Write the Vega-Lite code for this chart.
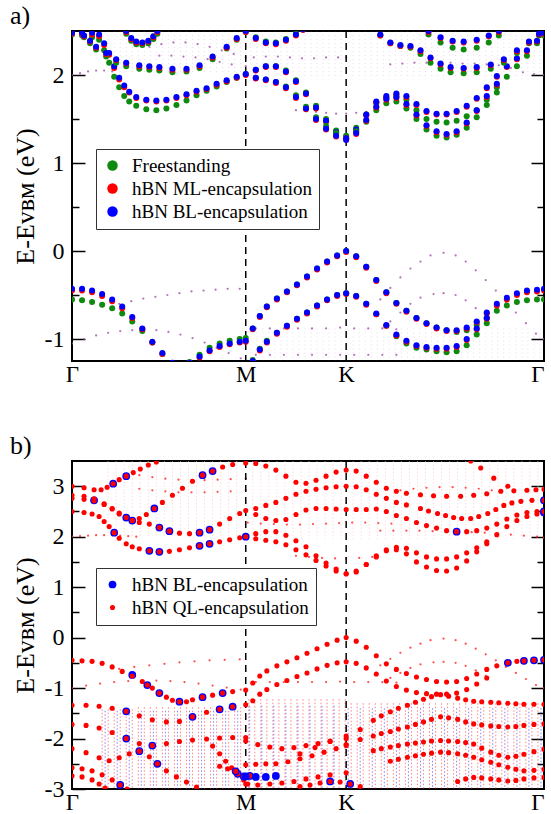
{
"$schema": "https://vega.github.io/schema/vega-lite/v6.json",
"padding": {"left": 9, "top": 2, "right": 2, "bottom": 0},
"spacing": 45,
"config": {
  "view": {"stroke": "black", "strokeWidth": 2},
  "font": "Liberation Serif, Times New Roman, DejaVu Serif, serif",
  "axis": {"grid": false, "domain": false, "labelFont": "Liberation Serif, Times New Roman, DejaVu Serif, serif", "titleFont": "Liberation Serif, Times New Roman, DejaVu Serif, serif", "labelFontSize": 24, "titleFontSize": 26, "titleFontWeight": "normal", "labelColor": "black", "titleColor": "black", "tickColor": "black", "tickWidth": 1.5},
  "title": {"font": "Liberation Serif, Times New Roman, DejaVu Serif, serif", "fontSize": 26, "fontWeight": "normal", "anchor": "start", "frame": "bounds", "offset": 1, "color": "black"}
},
"resolve": {"scale": {"color": "independent", "size": "independent", "stroke": "independent"}, "legend": {"color": "independent"}},
"datasets": {
"af": [
{"b":"cA","k":0,"FS":2.46,"ML":2.47,"BL":2.48},{"b":"cA","k":10,"FS":2.45,"ML":2.47,"BL":2.48},{"b":"cA","k":20,"FS":2.43,"ML":2.46,"BL":2.48},{"b":"cA","k":27,"FS":2.40,"ML":2.44,"BL":2.46},{"b":"cA","k":32,"FS":2.28,"ML":2.34,"BL":2.36},{"b":"cA","k":37,"FS":2.14,"ML":2.23,"BL":2.25},{"b":"cA","k":42,"FS":1.98,"ML":2.08,"BL":2.1},{"b":"cA","k":47,"FS":1.86,"ML":1.95,"BL":1.97},{"b":"cA","k":52,"FS":1.76,"ML":1.86,"BL":1.88},{"b":"cA","k":57,"FS":1.7,"ML":1.8,"BL":1.81},{"b":"cA","k":64,"FS":1.65,"ML":1.74,"BL":1.75},{"b":"cA","k":74,"FS":1.61,"ML":1.71,"BL":1.72},{"b":"cA","k":84,"FS":1.6,"ML":1.7,"BL":1.71},{"b":"cA","k":94,"FS":1.62,"ML":1.71,"BL":1.72},{"b":"cA","k":104,"FS":1.66,"ML":1.74,"BL":1.75},{"b":"cA","k":114,"FS":1.71,"ML":1.77,"BL":1.78},{"b":"cA","k":124,"FS":1.77,"ML":1.81,"BL":1.82},{"b":"cA","k":134,"FS":1.82,"ML":1.84,"BL":1.85},{"b":"cA","k":144,"FS":1.87,"ML":1.89,"BL":1.9},{"b":"cA","k":154,"FS":1.92,"ML":1.93,"BL":1.94},{"b":"cA","k":164,"FS":1.97,"ML":1.97,"BL":1.98},{"b":"cA","k":173,"FS":2.01,"ML":2.0,"BL":2.01},{"b":"cA","k":183,"FS":2.06,"ML":2.05,"BL":2.06},{"b":"cA","k":193,"FS":2.1,"ML":2.09,"BL":2.1},{"b":"cA","k":203,"FS":2.1,"ML":2.09,"BL":2.1},{"b":"cA","k":213,"FS":2.05,"ML":2.03,"BL":2.04},{"b":"cA","k":223,"FS":1.94,"ML":1.92,"BL":1.93},{"b":"cA","k":233,"FS":1.8,"ML":1.78,"BL":1.79},{"b":"cA","k":243,"FS":1.65,"ML":1.62,"BL":1.63},{"b":"cA","k":253,"FS":1.5,"ML":1.47,"BL":1.48},{"b":"cA","k":263,"FS":1.37,"ML":1.34,"BL":1.35},{"b":"cA","k":273,"FS":1.3,"ML":1.27,"BL":1.26},{"b":"cA","k":283,"FS":1.4,"ML":1.37,"BL":1.38},{"b":"cA","k":293,"FS":1.55,"ML":1.54,"BL":1.55},{"b":"cA","k":303,"FS":1.68,"ML":1.69,"BL":1.7},{"b":"cA","k":313,"FS":1.74,"ML":1.75,"BL":1.76},{"b":"cA","k":323,"FS":1.76,"ML":1.78,"BL":1.79},{"b":"cA","k":333,"FS":1.72,"ML":1.75,"BL":1.76},{"b":"cA","k":343,"FS":1.6,"ML":1.66,"BL":1.67},{"b":"cA","k":353,"FS":1.5,"ML":1.58,"BL":1.59},{"b":"cA","k":363,"FS":1.47,"ML":1.55,"BL":1.56},{"b":"cA","k":373,"FS":1.46,"ML":1.55,"BL":1.56},{"b":"cA","k":383,"FS":1.48,"ML":1.58,"BL":1.59},{"b":"cA","k":393,"FS":1.53,"ML":1.64,"BL":1.65},{"b":"cA","k":403,"FS":1.6,"ML":1.73,"BL":1.74},{"b":"cA","k":413,"FS":1.72,"ML":1.85,"BL":1.86},{"b":"cA","k":423,"FS":1.86,"ML":1.98,"BL":1.99},{"b":"cA","k":433,"FS":1.98,"ML":2.09,"BL":2.1},{"b":"cA","k":443,"FS":2.1,"ML":2.18,"BL":2.19},{"b":"cA","k":453,"FS":2.22,"ML":2.27,"BL":2.28},{"b":"cA","k":463,"FS":2.36,"ML":2.38,"BL":2.39},{"b":"cA","k":470,"FS":2.45,"ML":2.47,"BL":2.48},
{"b":"cB","k":183,"FS":1.97,"ML":1.96,"BL":1.97},{"b":"cB","k":193,"FS":1.95,"ML":1.94,"BL":1.95},{"b":"cB","k":203,"FS":1.92,"ML":1.91,"BL":1.92},{"b":"cB","k":213,"FS":1.87,"ML":1.85,"BL":1.86},{"b":"cB","k":223,"FS":1.77,"ML":1.74,"BL":1.75},{"b":"cB","k":233,"FS":1.64,"ML":1.61,"BL":1.62},{"b":"cB","k":243,"FS":1.52,"ML":1.49,"BL":1.5},{"b":"cB","k":253,"FS":1.42,"ML":1.38,"BL":1.39},{"b":"cB","k":263,"FS":1.34,"ML":1.3,"BL":1.31},{"b":"cB","k":273,"FS":1.31,"ML":1.28,"BL":1.28},{"b":"cB","k":283,"FS":1.36,"ML":1.33,"BL":1.34},{"b":"cB","k":293,"FS":1.47,"ML":1.48,"BL":1.49},{"b":"cB","k":303,"FS":1.6,"ML":1.63,"BL":1.64},{"b":"cB","k":313,"FS":1.68,"ML":1.72,"BL":1.73},{"b":"cB","k":323,"FS":1.7,"ML":1.74,"BL":1.75},{"b":"cB","k":333,"FS":1.62,"ML":1.66,"BL":1.67},{"b":"cB","k":343,"FS":1.5,"ML":1.54,"BL":1.55},{"b":"cB","k":353,"FS":1.38,"ML":1.42,"BL":1.43},{"b":"cB","k":363,"FS":1.31,"ML":1.35,"BL":1.36},{"b":"cB","k":373,"FS":1.29,"ML":1.32,"BL":1.33},{"b":"cB","k":383,"FS":1.32,"ML":1.35,"BL":1.36},{"b":"cB","k":393,"FS":1.4,"ML":1.45,"BL":1.46},{"b":"cB","k":403,"FS":1.52,"ML":1.59,"BL":1.6},{"b":"cB","k":413,"FS":1.66,"ML":1.75,"BL":1.76},{"b":"cB","k":423,"FS":1.8,"ML":1.89,"BL":1.9},
{"b":"cC","k":12,"FS":2.43,"ML":2.44,"BL":2.45},{"b":"cC","k":18,"FS":2.36,"ML":2.38,"BL":2.39},{"b":"cC","k":24,"FS":2.29,"ML":2.31,"BL":2.32},{"b":"cC","k":34,"FS":2.21,"ML":2.24,"BL":2.25},{"b":"cC","k":44,"FS":2.14,"ML":2.17,"BL":2.18},{"b":"cC","k":54,"FS":2.1,"ML":2.13,"BL":2.14},{"b":"cC","k":67,"FS":2.07,"ML":2.1,"BL":2.11},{"b":"cC","k":77,"FS":2.06,"ML":2.09,"BL":2.1},{"b":"cC","k":87,"FS":2.05,"ML":2.08,"BL":2.09},{"b":"cC","k":100,"FS":2.03,"ML":2.06,"BL":2.07},{"b":"cC","k":114,"FS":2.04,"ML":2.06,"BL":2.07},{"b":"cC","k":127,"FS":2.08,"ML":2.1,"BL":2.11},{"b":"cC","k":140,"FS":2.18,"ML":2.2,"BL":2.21},{"b":"cC","k":154,"FS":2.3,"ML":2.31,"BL":2.32},{"b":"cC","k":164,"FS":2.4,"ML":2.41,"BL":2.42},{"b":"cC","k":173,"FS":2.49,"ML":2.49,"BL":2.5},{"b":"cC","k":183,"FS":2.43,"ML":2.41,"BL":2.42},{"b":"cC","k":193,"FS":2.38,"ML":2.36,"BL":2.37},{"b":"cC","k":203,"FS":2.37,"ML":2.35,"BL":2.36},{"b":"cC","k":213,"FS":2.41,"ML":2.39,"BL":2.4},{"b":"cC","k":223,"FS":2.47,"ML":2.45,"BL":2.46},{"b":"cC","k":230,"FS":2.53,"ML":2.51,"BL":2.52},
{"b":"cD","k":54,"FS":2.47,"ML":2.49,"BL":2.5},{"b":"cD","k":59,"FS":2.39,"ML":2.41,"BL":2.42},{"b":"cD","k":64,"FS":2.35,"ML":2.37,"BL":2.38},{"b":"cD","k":70,"FS":2.34,"ML":2.36,"BL":2.37},{"b":"cD","k":76,"FS":2.36,"ML":2.38,"BL":2.39},{"b":"cD","k":81,"FS":2.41,"ML":2.43,"BL":2.44},{"b":"cD","k":85,"FS":2.47,"ML":2.49,"BL":2.5},
{"b":"U1","k":307,"FS":2.45,"ML":2.45,"BL":2.46},{"b":"U1","k":317,"FS":2.36,"ML":2.36,"BL":2.37},{"b":"U1","k":327,"FS":2.33,"ML":2.33,"BL":2.34},{"b":"U1","k":337,"FS":2.31,"ML":2.32,"BL":2.33},{"b":"U1","k":347,"FS":2.24,"ML":2.27,"BL":2.28},{"b":"U1","k":357,"FS":2.14,"ML":2.19,"BL":2.2},{"b":"U1","k":367,"FS":2.07,"ML":2.12,"BL":2.13},{"b":"U1","k":377,"FS":2.03,"ML":2.08,"BL":2.09},{"b":"U1","k":390,"FS":2.02,"ML":2.07,"BL":2.08},{"b":"U1","k":403,"FS":2.03,"ML":2.08,"BL":2.09},{"b":"U1","k":417,"FS":2.07,"ML":2.11,"BL":2.12},{"b":"U1","k":430,"FS":2.14,"ML":2.17,"BL":2.18},{"b":"U1","k":443,"FS":2.25,"ML":2.27,"BL":2.28},{"b":"U1","k":455,"FS":2.36,"ML":2.37,"BL":2.38},{"b":"U1","k":465,"FS":2.45,"ML":2.46,"BL":2.47},
{"b":"U2","k":355,"FS":2.46,"ML":2.49,"BL":2.5},{"b":"U2","k":367,"FS":2.37,"ML":2.42,"BL":2.43},{"b":"U2","k":379,"FS":2.31,"ML":2.38,"BL":2.39},{"b":"U2","k":390,"FS":2.29,"ML":2.37,"BL":2.38},{"b":"U2","k":403,"FS":2.31,"ML":2.39,"BL":2.4},{"b":"U2","k":415,"FS":2.37,"ML":2.44,"BL":2.45},{"b":"U2","k":425,"FS":2.45,"ML":2.49,"BL":2.5},
{"b":"V1","k":0,"FS":-0.55,"ML":-0.45,"BL":-0.43},{"b":"V1","k":10,"FS":-0.56,"ML":-0.45,"BL":-0.43},{"b":"V1","k":20,"FS":-0.58,"ML":-0.47,"BL":-0.45},{"b":"V1","k":30,"FS":-0.61,"ML":-0.51,"BL":-0.49},{"b":"V1","k":40,"FS":-0.65,"ML":-0.57,"BL":-0.55},{"b":"V1","k":50,"FS":-0.71,"ML":-0.65,"BL":-0.63},{"b":"V1","k":60,"FS":-0.8,"ML":-0.76,"BL":-0.75},{"b":"V1","k":70,"FS":-0.91,"ML":-0.89,"BL":-0.88},{"b":"V1","k":80,"FS":-1.04,"ML":-1.04,"BL":-1.03},{"b":"V1","k":90,"FS":-1.17,"ML":-1.17,"BL":-1.16},{"b":"V1","k":100,"FS":-1.28,"ML":-1.28,"BL":-1.27},
{"b":"Vm","k":117,"FS":-1.26,"ML":-1.28,"BL":-1.27},{"b":"Vm","k":127,"FS":-1.18,"ML":-1.21,"BL":-1.2},{"b":"Vm","k":137,"FS":-1.1,"ML":-1.14,"BL":-1.13},{"b":"Vm","k":147,"FS":-1.05,"ML":-1.09,"BL":-1.08},{"b":"Vm","k":157,"FS":-1.02,"ML":-1.06,"BL":-1.05},{"b":"Vm","k":167,"FS":-1.0,"ML":-1.04,"BL":-1.03},{"b":"Vm","k":173,"FS":-0.99,"ML":-1.03,"BL":-1.02},
{"b":"V1b","k":180,"FS":-0.88,"ML":-0.89,"BL":-0.88},{"b":"V1b","k":187,"FS":-0.74,"ML":-0.75,"BL":-0.74},{"b":"V1b","k":194,"FS":-0.63,"ML":-0.64,"BL":-0.63},{"b":"V1b","k":204,"FS":-0.54,"ML":-0.55,"BL":-0.54},{"b":"V1b","k":214,"FS":-0.46,"ML":-0.47,"BL":-0.46},{"b":"V1b","k":224,"FS":-0.38,"ML":-0.39,"BL":-0.38},{"b":"V1b","k":234,"FS":-0.29,"ML":-0.3,"BL":-0.29},{"b":"V1b","k":244,"FS":-0.2,"ML":-0.21,"BL":-0.2},{"b":"V1b","k":254,"FS":-0.12,"ML":-0.13,"BL":-0.12},{"b":"V1b","k":264,"FS":-0.05,"ML":-0.06,"BL":-0.05},{"b":"V1b","k":273,"FS":0,"ML":-0.01,"BL":0},{"b":"V1b","k":283,"FS":-0.06,"ML":-0.07,"BL":-0.06},{"b":"V1b","k":293,"FS":-0.18,"ML":-0.19,"BL":-0.18},{"b":"V1b","k":303,"FS":-0.33,"ML":-0.34,"BL":-0.33},{"b":"V1b","k":313,"FS":-0.47,"ML":-0.48,"BL":-0.47},{"b":"V1b","k":323,"FS":-0.59,"ML":-0.6,"BL":-0.59},{"b":"V1b","k":333,"FS":-0.68,"ML":-0.69,"BL":-0.68},{"b":"V1b","k":343,"FS":-0.76,"ML":-0.77,"BL":-0.76},{"b":"V1b","k":353,"FS":-0.82,"ML":-0.83,"BL":-0.82},{"b":"V1b","k":363,"FS":-0.87,"ML":-0.88,"BL":-0.87},{"b":"V1b","k":373,"FS":-0.9,"ML":-0.91,"BL":-0.9},{"b":"V1b","k":383,"FS":-0.92,"ML":-0.91,"BL":-0.9},{"b":"V1b","k":393,"FS":-0.9,"ML":-0.88,"BL":-0.87},{"b":"V1b","k":403,"FS":-0.84,"ML":-0.81,"BL":-0.8},{"b":"V1b","k":413,"FS":-0.76,"ML":-0.71,"BL":-0.7},{"b":"V1b","k":423,"FS":-0.68,"ML":-0.62,"BL":-0.6},{"b":"V1b","k":433,"FS":-0.62,"ML":-0.55,"BL":-0.53},{"b":"V1b","k":443,"FS":-0.58,"ML":-0.5,"BL":-0.48},{"b":"V1b","k":453,"FS":-0.56,"ML":-0.47,"BL":-0.45},{"b":"V1b","k":463,"FS":-0.55,"ML":-0.46,"BL":-0.44},{"b":"V1b","k":470,"FS":-0.55,"ML":-0.45,"BL":-0.43},
{"b":"V2","k":180,"FS":-1.24,"ML":-1.26,"BL":-1.25},{"b":"V2","k":187,"FS":-1.11,"ML":-1.13,"BL":-1.12},{"b":"V2","k":194,"FS":-1.02,"ML":-1.04,"BL":-1.03},{"b":"V2","k":204,"FS":-0.93,"ML":-0.94,"BL":-0.93},{"b":"V2","k":214,"FS":-0.85,"ML":-0.86,"BL":-0.85},{"b":"V2","k":224,"FS":-0.77,"ML":-0.78,"BL":-0.77},{"b":"V2","k":234,"FS":-0.7,"ML":-0.71,"BL":-0.7},{"b":"V2","k":244,"FS":-0.62,"ML":-0.63,"BL":-0.62},{"b":"V2","k":254,"FS":-0.55,"ML":-0.56,"BL":-0.55},{"b":"V2","k":264,"FS":-0.5,"ML":-0.51,"BL":-0.5},{"b":"V2","k":273,"FS":-0.48,"ML":-0.49,"BL":-0.48},{"b":"V2","k":283,"FS":-0.51,"ML":-0.52,"BL":-0.51},{"b":"V2","k":293,"FS":-0.6,"ML":-0.61,"BL":-0.6},{"b":"V2","k":303,"FS":-0.72,"ML":-0.72,"BL":-0.71},{"b":"V2","k":313,"FS":-0.85,"ML":-0.85,"BL":-0.84},{"b":"V2","k":323,"FS":-0.97,"ML":-0.96,"BL":-0.95},{"b":"V2","k":333,"FS":-1.05,"ML":-1.03,"BL":-1.02},{"b":"V2","k":343,"FS":-1.1,"ML":-1.08,"BL":-1.07},{"b":"V2","k":353,"FS":-1.12,"ML":-1.1,"BL":-1.09},{"b":"V2","k":363,"FS":-1.14,"ML":-1.11,"BL":-1.1},{"b":"V2","k":373,"FS":-1.15,"ML":-1.11,"BL":-1.1},{"b":"V2","k":383,"FS":-1.14,"ML":-1.09,"BL":-1.08},{"b":"V2","k":393,"FS":-1.07,"ML":-1.01,"BL":-1.0},{"b":"V2","k":403,"FS":-0.95,"ML":-0.89,"BL":-0.88},{"b":"V2","k":413,"FS":-0.82,"ML":-0.77,"BL":-0.76}
],
"aw": [
{"b":"f1","k":0,"E":2.0},{"b":"f1","k":8,"E":2.02},{"b":"f1","k":16,"E":2.04},{"b":"f1","k":24,"E":2.05},{"b":"f1","k":32,"E":2.05},{"b":"f1","k":40,"E":2.04},
{"b":"f2","k":77,"E":2.32},{"b":"f2","k":89,"E":2.35},{"b":"f2","k":101,"E":2.37},{"b":"f2","k":113,"E":2.37},{"b":"f2","k":125,"E":2.35},{"b":"f2","k":137,"E":2.32},{"b":"f2","k":149,"E":2.28},{"b":"f2","k":161,"E":2.24},{"b":"f2","k":173,"E":2.2},
{"b":"f3","k":87,"E":2.22},{"b":"f3","k":99,"E":2.22},{"b":"f3","k":111,"E":2.21},{"b":"f3","k":123,"E":2.2},{"b":"f3","k":135,"E":2.18},{"b":"f3","k":147,"E":2.15},{"b":"f3","k":159,"E":2.12},{"b":"f3","k":173,"E":2.1},
{"b":"f6","k":181,"E":2.2},{"b":"f6","k":193,"E":2.21},{"b":"f6","k":205,"E":2.21},{"b":"f6","k":217,"E":2.2},{"b":"f6","k":229,"E":2.19},{"b":"f6","k":241,"E":2.19},{"b":"f6","k":253,"E":2.2},{"b":"f6","k":265,"E":2.2},{"b":"f6","k":273,"E":2.2},
{"b":"f4","k":223,"E":1.6},{"b":"f4","k":233,"E":1.59},{"b":"f4","k":243,"E":1.58},{"b":"f4","k":253,"E":1.57},{"b":"f4","k":263,"E":1.56},{"b":"f4","k":273,"E":1.56},{"b":"f4","k":283,"E":1.57},{"b":"f4","k":293,"E":1.58},
{"b":"f5","k":317,"E":2.12},{"b":"f5","k":329,"E":2.13},{"b":"f5","k":341,"E":2.14},{"b":"f5","k":353,"E":2.14},{"b":"f5","k":365,"E":2.14},{"b":"f5","k":377,"E":2.14},{"b":"f5","k":389,"E":2.13},{"b":"f5","k":401,"E":2.13},{"b":"f5","k":413,"E":2.12},{"b":"f5","k":425,"E":2.11},{"b":"f5","k":437,"E":2.08},{"b":"f5","k":449,"E":2.03},{"b":"f5","k":460,"E":2.01},{"b":"f5","k":470,"E":2.0},
{"b":"v1","k":47,"E":-0.6},{"b":"v1","k":59,"E":-0.57},{"b":"v1","k":71,"E":-0.54},{"b":"v1","k":83,"E":-0.52},{"b":"v1","k":95,"E":-0.5},{"b":"v1","k":107,"E":-0.48},{"b":"v1","k":119,"E":-0.46},{"b":"v1","k":131,"E":-0.45},{"b":"v1","k":143,"E":-0.44},{"b":"v1","k":155,"E":-0.43},{"b":"v1","k":167,"E":-0.43},
{"b":"v2","k":0,"E":-1.05},{"b":"v2","k":12,"E":-1.0},{"b":"v2","k":24,"E":-0.96},{"b":"v2","k":36,"E":-0.93},{"b":"v2","k":48,"E":-0.91},{"b":"v2","k":60,"E":-0.9},{"b":"v2","k":72,"E":-0.9},{"b":"v2","k":84,"E":-0.9},{"b":"v2","k":96,"E":-0.92},{"b":"v2","k":108,"E":-0.95},{"b":"v2","k":120,"E":-0.99},{"b":"v2","k":132,"E":-1.04},{"b":"v2","k":144,"E":-1.1},{"b":"v2","k":156,"E":-1.16},{"b":"v2","k":168,"E":-1.22},
{"b":"v5","k":183,"E":-0.88},{"b":"v5","k":197,"E":-0.88},{"b":"v5","k":211,"E":-0.88},{"b":"v5","k":225,"E":-0.88},{"b":"v5","k":239,"E":-0.88},{"b":"v5","k":253,"E":-0.88},{"b":"v5","k":267,"E":-0.87},{"b":"v5","k":281,"E":-0.88},{"b":"v5","k":295,"E":-0.88},{"b":"v5","k":309,"E":-0.88},{"b":"v5","k":323,"E":-0.89},
{"b":"v6","k":183,"E":-1.18},{"b":"v6","k":197,"E":-1.18},{"b":"v6","k":211,"E":-1.18},{"b":"v6","k":225,"E":-1.18},{"b":"v6","k":239,"E":-1.18},{"b":"v6","k":253,"E":-1.18},{"b":"v6","k":267,"E":-1.18},{"b":"v6","k":281,"E":-1.18},{"b":"v6","k":295,"E":-1.18},{"b":"v6","k":309,"E":-1.18},{"b":"v6","k":323,"E":-1.18},
{"b":"d1","k":307,"E":-0.55},{"b":"d1","k":317,"E":-0.42},{"b":"d1","k":327,"E":-0.3},{"b":"d1","k":337,"E":-0.2},{"b":"d1","k":347,"E":-0.12},{"b":"d1","k":357,"E":-0.05},{"b":"d1","k":370,"E":-0.02},{"b":"d1","k":382,"E":-0.05},{"b":"d1","k":392,"E":-0.12},{"b":"d1","k":402,"E":-0.22},{"b":"d1","k":412,"E":-0.33},{"b":"d1","k":422,"E":-0.45},{"b":"d1","k":432,"E":-0.58},{"b":"d1","k":442,"E":-0.7},{"b":"d1","k":452,"E":-0.82},{"b":"d1","k":462,"E":-0.94},{"b":"d1","k":470,"E":-1.0},
{"b":"d2","k":317,"E":-0.8},{"b":"d2","k":327,"E":-0.7},{"b":"d2","k":337,"E":-0.6},{"b":"d2","k":347,"E":-0.53},{"b":"d2","k":360,"E":-0.49},{"b":"d2","k":370,"E":-0.48},{"b":"d2","k":382,"E":-0.5},{"b":"d2","k":392,"E":-0.56},{"b":"d2","k":402,"E":-0.65},{"b":"d2","k":412,"E":-0.76}
],
"ac": [
{"k":36,"lo":2.0,"hi":2.5},{"k":42,"lo":2.0,"hi":2.5},{"k":48,"lo":2.0,"hi":2.5},{"k":54,"lo":2.0,"hi":2.5},{"k":60,"lo":2.0,"hi":2.5},{"k":66,"lo":2.0,"hi":2.5},{"k":72,"lo":2.0,"hi":2.5},{"k":78,"lo":2.0,"hi":2.5},{"k":84,"lo":2.0,"hi":2.5},{"k":90,"lo":2.0,"hi":2.5},{"k":96,"lo":2.0,"hi":2.5},{"k":102,"lo":2.0,"hi":2.5},{"k":108,"lo":2.0,"hi":2.5},{"k":114,"lo":2.0,"hi":2.5},{"k":120,"lo":2.0,"hi":2.5},{"k":126,"lo":2.0,"hi":2.5},{"k":132,"lo":2.0,"hi":2.5},{"k":138,"lo":2.0,"hi":2.5},{"k":144,"lo":2.0,"hi":2.5},{"k":150,"lo":2.0,"hi":2.5},{"k":156,"lo":2.0,"hi":2.5},{"k":162,"lo":2.0,"hi":2.5},{"k":168,"lo":2.0,"hi":2.5},
{"k":178,"lo":1.95,"hi":2.5},{"k":184,"lo":1.95,"hi":2.5},{"k":190,"lo":1.95,"hi":2.5},{"k":196,"lo":1.95,"hi":2.5},{"k":202,"lo":1.95,"hi":2.5},{"k":208,"lo":1.95,"hi":2.5},{"k":214,"lo":1.95,"hi":2.5},{"k":220,"lo":1.95,"hi":2.5},{"k":226,"lo":1.95,"hi":2.5},{"k":232,"lo":1.95,"hi":2.5},{"k":238,"lo":1.95,"hi":2.5},{"k":244,"lo":1.95,"hi":2.5},{"k":250,"lo":1.95,"hi":2.5},{"k":256,"lo":1.95,"hi":2.5},{"k":262,"lo":1.95,"hi":2.5},{"k":268,"lo":1.95,"hi":2.5},
{"k":280,"lo":1.95,"hi":2.5},{"k":286,"lo":1.95,"hi":2.5},{"k":292,"lo":1.95,"hi":2.5},{"k":298,"lo":1.95,"hi":2.5},{"k":304,"lo":1.95,"hi":2.5},{"k":310,"lo":1.95,"hi":2.5},{"k":316,"lo":1.95,"hi":2.5},{"k":322,"lo":1.95,"hi":2.5},{"k":328,"lo":1.95,"hi":2.5},{"k":334,"lo":1.95,"hi":2.5},{"k":340,"lo":1.95,"hi":2.5},{"k":346,"lo":1.95,"hi":2.5},{"k":352,"lo":1.95,"hi":2.5},{"k":358,"lo":1.95,"hi":2.5},{"k":364,"lo":1.95,"hi":2.5},{"k":370,"lo":1.95,"hi":2.5},{"k":376,"lo":1.95,"hi":2.5},{"k":382,"lo":1.95,"hi":2.5},{"k":388,"lo":1.95,"hi":2.5},{"k":394,"lo":1.95,"hi":2.5},{"k":400,"lo":1.95,"hi":2.5},{"k":406,"lo":1.95,"hi":2.5},{"k":412,"lo":1.95,"hi":2.5},{"k":418,"lo":1.95,"hi":2.5},{"k":424,"lo":1.95,"hi":2.5},{"k":430,"lo":1.95,"hi":2.5},{"k":436,"lo":1.95,"hi":2.5},{"k":442,"lo":1.95,"hi":2.5},{"k":448,"lo":1.95,"hi":2.5},{"k":454,"lo":1.95,"hi":2.5},{"k":460,"lo":1.95,"hi":2.5},{"k":466,"lo":1.95,"hi":2.5},
{"k":178,"lo":-1.25,"hi":-0.88},{"k":184,"lo":-1.25,"hi":-0.88},{"k":190,"lo":-1.25,"hi":-0.88},{"k":196,"lo":-1.25,"hi":-0.88},{"k":202,"lo":-1.25,"hi":-0.88},{"k":208,"lo":-1.25,"hi":-0.88},{"k":214,"lo":-1.25,"hi":-0.88},{"k":220,"lo":-1.25,"hi":-0.88},{"k":226,"lo":-1.25,"hi":-0.88},{"k":232,"lo":-1.25,"hi":-0.88},{"k":238,"lo":-1.25,"hi":-0.88},{"k":244,"lo":-1.25,"hi":-0.88},{"k":250,"lo":-1.25,"hi":-0.88},{"k":256,"lo":-1.25,"hi":-0.88},{"k":262,"lo":-1.25,"hi":-0.88},{"k":268,"lo":-1.25,"hi":-0.88},{"k":274,"lo":-1.25,"hi":-0.88},{"k":280,"lo":-1.25,"hi":-0.88},{"k":286,"lo":-1.25,"hi":-0.88},{"k":292,"lo":-1.25,"hi":-0.88},{"k":298,"lo":-1.25,"hi":-0.88},{"k":304,"lo":-1.25,"hi":-0.88},{"k":310,"lo":-1.25,"hi":-0.88},{"k":316,"lo":-1.25,"hi":-0.88},{"k":322,"lo":-1.25,"hi":-0.88},{"k":328,"lo":-1.25,"hi":-0.88},{"k":334,"lo":-1.25,"hi":-0.88},{"k":340,"lo":-1.25,"hi":-0.88},{"k":346,"lo":-1.25,"hi":-0.88},{"k":352,"lo":-1.25,"hi":-0.88},{"k":358,"lo":-1.25,"hi":-0.88},{"k":364,"lo":-1.25,"hi":-0.88},{"k":370,"lo":-1.25,"hi":-0.88},{"k":376,"lo":-1.25,"hi":-0.88},{"k":382,"lo":-1.25,"hi":-0.88},{"k":388,"lo":-1.25,"hi":-0.88},{"k":394,"lo":-1.25,"hi":-0.88},{"k":400,"lo":-1.25,"hi":-0.88},{"k":406,"lo":-1.25,"hi":-0.88},{"k":412,"lo":-1.25,"hi":-0.88},{"k":418,"lo":-1.25,"hi":-0.88},{"k":424,"lo":-1.25,"hi":-0.88},{"k":430,"lo":-1.25,"hi":-0.88},{"k":436,"lo":-1.25,"hi":-0.88},{"k":442,"lo":-1.25,"hi":-0.88},{"k":448,"lo":-1.25,"hi":-0.88},{"k":454,"lo":-1.25,"hi":-0.88},{"k":460,"lo":-1.25,"hi":-0.88},{"k":466,"lo":-1.25,"hi":-0.88}
],
"bf": [
{"b":"B1","k":0,"QL":2.5},{"b":"B1","k":12,"QL":2.48},{"b":"B1","k":20,"QL":2.45},{"b":"B1","k":27,"QL":2.4},{"b":"B1","k":32,"QL":2.3},{"b":"B1","k":37,"QL":2.2},{"b":"B1","k":42,"QL":2.08,"BL":2.08},{"b":"B1","k":47,"QL":1.97},{"b":"B1","k":54,"QL":1.86},{"b":"B1","k":60,"QL":1.8},{"b":"B1","k":67,"QL":1.76},{"b":"B1","k":77,"QL":1.72,"BL":1.72},{"b":"B1","k":87,"QL":1.7,"BL":1.7},{"b":"B1","k":97,"QL":1.71},{"b":"B1","k":107,"QL":1.74},{"b":"B1","k":117,"QL":1.78},{"b":"B1","k":127,"QL":1.82,"BL":1.82},{"b":"B1","k":137,"QL":1.86,"BL":1.86},{"b":"B1","k":147,"QL":1.9},{"b":"B1","k":157,"QL":1.94},{"b":"B1","k":167,"QL":1.98},{"b":"B1","k":173,"QL":2.0,"BL":2.0},{"b":"B1","k":183,"QL":2.06},{"b":"B1","k":193,"QL":2.1},{"b":"B1","k":203,"QL":2.1},{"b":"B1","k":213,"QL":2.03},{"b":"B1","k":223,"QL":1.92},{"b":"B1","k":233,"QL":1.8},{"b":"B1","k":243,"QL":1.62},{"b":"B1","k":253,"QL":1.48},{"b":"B1","k":263,"QL":1.36},{"b":"B1","k":273,"QL":1.26},{"b":"B1","k":283,"QL":1.3},{"b":"B1","k":293,"QL":1.45},{"b":"B1","k":303,"QL":1.62},{"b":"B1","k":313,"QL":1.74},{"b":"B1","k":323,"QL":1.79},{"b":"B1","k":333,"QL":1.77},{"b":"B1","k":343,"QL":1.68},{"b":"B1","k":353,"QL":1.6},{"b":"B1","k":363,"QL":1.56},{"b":"B1","k":373,"QL":1.56},{"b":"B1","k":383,"QL":1.6},{"b":"B1","k":393,"QL":1.68},{"b":"B1","k":403,"QL":1.78},{"b":"B1","k":413,"QL":1.9},{"b":"B1","k":423,"QL":2.04},{"b":"B1","k":433,"QL":2.2},{"b":"B1","k":443,"QL":2.32},{"b":"B1","k":453,"QL":2.4},{"b":"B1","k":463,"QL":2.45},{"b":"B1","k":470,"QL":2.47,"BL":2.48},
{"b":"B1b","k":183,"QL":1.96},{"b":"B1b","k":193,"QL":1.93},{"b":"B1b","k":203,"QL":1.9},{"b":"B1b","k":213,"QL":1.84},{"b":"B1b","k":223,"QL":1.74},{"b":"B1b","k":233,"QL":1.64},{"b":"B1b","k":243,"QL":1.53},{"b":"B1b","k":253,"QL":1.42},{"b":"B1b","k":263,"QL":1.32},{"b":"B1b","k":273,"QL":1.27},{"b":"B1b","k":283,"QL":1.32},{"b":"B1b","k":293,"QL":1.45},{"b":"B1b","k":303,"QL":1.6},{"b":"B1b","k":313,"QL":1.72},{"b":"B1b","k":323,"QL":1.74},{"b":"B1b","k":333,"QL":1.66},{"b":"B1b","k":343,"QL":1.5},{"b":"B1b","k":353,"QL":1.4},{"b":"B1b","k":363,"QL":1.33},{"b":"B1b","k":373,"QL":1.32},{"b":"B1b","k":383,"QL":1.38},{"b":"B1b","k":393,"QL":1.52},{"b":"B1b","k":403,"QL":1.7},{"b":"B1b","k":413,"QL":1.86},
{"b":"B2","k":0,"QL":2.76},{"b":"B2","k":12,"QL":2.74},{"b":"B2","k":22,"QL":2.71,"BL":2.72},{"b":"B2","k":32,"QL":2.64},{"b":"B2","k":40,"QL":2.56},{"b":"B2","k":47,"QL":2.47},{"b":"B2","k":54,"QL":2.4},{"b":"B2","k":60,"QL":2.32,"BL":2.32},{"b":"B2","k":67,"QL":2.28},{"b":"B2","k":77,"QL":2.25},{"b":"B2","k":87,"QL":2.18,"BL":2.18},{"b":"B2","k":97,"QL":2.11,"BL":2.11},{"b":"B2","k":107,"QL":2.07},{"b":"B2","k":117,"QL":2.06},{"b":"B2","k":127,"QL":2.08,"BL":2.08},{"b":"B2","k":137,"QL":2.14,"BL":2.14},{"b":"B2","k":147,"QL":2.25},{"b":"B2","k":157,"QL":2.36},{"b":"B2","k":167,"QL":2.46},{"b":"B2","k":173,"QL":2.52},
{"b":"B2u","k":183,"QL":2.56},{"b":"B2u","k":193,"QL":2.62},{"b":"B2u","k":203,"QL":2.68},{"b":"B2u","k":213,"QL":2.76},{"b":"B2u","k":223,"QL":2.84},{"b":"B2u","k":233,"QL":2.9},{"b":"B2u","k":243,"QL":2.94},{"b":"B2u","k":253,"QL":2.97},{"b":"B2u","k":263,"QL":2.99},{"b":"B2u","k":273,"QL":3.0},{"b":"B2u","k":283,"QL":2.99},{"b":"B2u","k":293,"QL":2.93},{"b":"B2u","k":303,"QL":2.84},{"b":"B2u","k":313,"QL":2.76},{"b":"B2u","k":323,"QL":2.68},{"b":"B2u","k":333,"QL":2.63},{"b":"B2u","k":347,"QL":2.56},{"b":"B2u","k":355,"QL":2.51},{"b":"B2u","k":364,"QL":2.46},{"b":"B2u","k":372,"QL":2.42},{"b":"B2u","k":380,"QL":2.38},{"b":"B2u","k":388,"QL":2.36},{"b":"B2u","k":397,"QL":2.36},{"b":"B2u","k":405,"QL":2.4},{"b":"B2u","k":414,"QL":2.46},{"b":"B2u","k":422,"QL":2.54},{"b":"B2u","k":430,"QL":2.62},{"b":"B2u","k":438,"QL":2.67},{"b":"B2u","k":447,"QL":2.7},{"b":"B2u","k":458,"QL":2.72},{"b":"B2u","k":470,"QL":2.72,"BL":2.72},
{"b":"B2d","k":183,"QL":2.44},{"b":"B2d","k":193,"QL":2.36},{"b":"B2d","k":203,"QL":2.32},{"b":"B2d","k":213,"QL":2.34},{"b":"B2d","k":223,"QL":2.44},{"b":"B2d","k":233,"QL":2.53},{"b":"B2d","k":243,"QL":2.56},{"b":"B2d","k":253,"QL":2.56},{"b":"B2d","k":263,"QL":2.55},{"b":"B2d","k":273,"QL":2.54},{"b":"B2d","k":283,"QL":2.54},{"b":"B2d","k":293,"QL":2.54},{"b":"B2d","k":303,"QL":2.55},{"b":"B2d","k":313,"QL":2.5},{"b":"B2d","k":323,"QL":2.42},{"b":"B2d","k":333,"QL":2.36},{"b":"B2d","k":343,"QL":2.28},{"b":"B2d","k":353,"QL":2.22},{"b":"B2d","k":363,"QL":2.17},{"b":"B2d","k":373,"QL":2.12},{"b":"B2d","k":383,"QL":2.1,"BL":2.1},{"b":"B2d","k":393,"QL":2.1},{"b":"B2d","k":403,"QL":2.12},{"b":"B2d","k":413,"QL":2.17},{"b":"B2d","k":423,"QL":2.25},{"b":"B2d","k":433,"QL":2.35},{"b":"B2d","k":443,"QL":2.43},{"b":"B2d","k":453,"QL":2.48},{"b":"B2d","k":463,"QL":2.5},{"b":"B2d","k":470,"QL":2.5,"BL":2.5},
{"b":"B3","k":0,"QL":2.82},{"b":"B3","k":12,"QL":2.8},{"b":"B3","k":22,"QL":2.75},{"b":"B3","k":32,"QL":2.65},{"b":"B3","k":40,"QL":2.55},{"b":"B3","k":47,"QL":2.45},{"b":"B3","k":54,"QL":2.38,"BL":2.38},{"b":"B3","k":60,"QL":2.32},{"b":"B3","k":67,"QL":2.36},{"b":"B3","k":74,"QL":2.44},{"b":"B3","k":82,"QL":2.56,"BL":2.56},{"b":"B3","k":90,"QL":2.68},{"b":"B3","k":100,"QL":2.82},{"b":"B3","k":110,"QL":2.96},{"b":"B3","k":120,"QL":3.1},{"b":"B3","k":130,"QL":3.22,"BL":3.22},{"b":"B3","k":140,"QL":3.3,"BL":3.3},{"b":"B3","k":150,"QL":3.38},{"b":"B3","k":160,"QL":3.43},{"b":"B3","k":173,"QL":3.46},{"b":"B3","k":183,"QL":3.45},{"b":"B3","k":193,"QL":3.4},{"b":"B3","k":203,"QL":3.32},{"b":"B3","k":213,"QL":3.2},{"b":"B3","k":223,"QL":3.08},{"b":"B3","k":233,"QL":3.06},{"b":"B3","k":243,"QL":3.12},{"b":"B3","k":253,"QL":3.2},{"b":"B3","k":263,"QL":3.28},{"b":"B3","k":273,"QL":3.32},{"b":"B3","k":283,"QL":3.3},{"b":"B3","k":293,"QL":3.2},{"b":"B3","k":303,"QL":3.08},{"b":"B3","k":313,"QL":2.96},{"b":"B3","k":323,"QL":2.9},{"b":"B3","k":333,"QL":2.86},{"b":"B3","k":347,"QL":2.83},{"b":"B3","k":360,"QL":2.81},{"b":"B3","k":373,"QL":2.8},{"b":"B3","k":387,"QL":2.8},{"b":"B3","k":400,"QL":2.82},{"b":"B3","k":413,"QL":2.85},{"b":"B3","k":427,"QL":2.9},{"b":"B3","k":440,"QL":2.91},{"b":"B3","k":453,"QL":2.92},{"b":"B3","k":462,"QL":2.93},{"b":"B3","k":470,"QL":2.94},
{"b":"B4","k":0,"QL":3.0},{"b":"B4","k":12,"QL":2.97},{"b":"B4","k":22,"QL":2.93},{"b":"B4","k":29,"QL":2.93},{"b":"B4","k":35,"QL":2.98},{"b":"B4","k":41,"QL":3.05,"BL":3.05},{"b":"B4","k":47,"QL":3.13},{"b":"B4","k":54,"QL":3.2,"BL":3.2},{"b":"B4","k":61,"QL":3.27},{"b":"B4","k":68,"QL":3.34},{"b":"B4","k":76,"QL":3.42},{"b":"B4","k":84,"QL":3.48},
{"b":"T","k":397,"QL":3.5},{"b":"T","k":407,"QL":3.36},{"b":"T","k":420,"QL":3.16},{"b":"T","k":434,"QL":3.0},
{"b":"Vb1","k":0,"QL":-0.45},{"b":"Vb1","k":10,"QL":-0.46},{"b":"Vb1","k":20,"QL":-0.47},{"b":"Vb1","k":30,"QL":-0.51},{"b":"Vb1","k":40,"QL":-0.58},{"b":"Vb1","k":50,"QL":-0.67},{"b":"Vb1","k":60,"QL":-0.76,"BL":-0.74},{"b":"Vb1","k":70,"QL":-0.87},{"b":"Vb1","k":75,"QL":-0.94,"BL":-0.94},{"b":"Vb1","k":80,"QL":-1.0},{"b":"Vb1","k":87,"QL":-1.1,"BL":-1.1},{"b":"Vb1","k":94,"QL":-1.18},{"b":"Vb1","k":100,"QL":-1.24},{"b":"Vb1","k":107,"QL":-1.27,"BL":-1.27},{"b":"Vb1","k":114,"QL":-1.27},{"b":"Vb1","k":120,"QL":-1.23},{"b":"Vb1","k":130,"QL":-1.18,"BL":-1.18},{"b":"Vb1","k":140,"QL":-1.14},{"b":"Vb1","k":150,"QL":-1.1,"BL":-1.1},{"b":"Vb1","k":160,"QL":-1.07},{"b":"Vb1","k":173,"QL":-1.04},{"b":"Vb1","k":180,"QL":-0.9},{"b":"Vb1","k":187,"QL":-0.76},{"b":"Vb1","k":194,"QL":-0.66},{"b":"Vb1","k":204,"QL":-0.56},{"b":"Vb1","k":214,"QL":-0.48},{"b":"Vb1","k":224,"QL":-0.4},{"b":"Vb1","k":234,"QL":-0.31},{"b":"Vb1","k":244,"QL":-0.22},{"b":"Vb1","k":254,"QL":-0.13},{"b":"Vb1","k":264,"QL":-0.05},{"b":"Vb1","k":273,"QL":0},{"b":"Vb1","k":283,"QL":-0.07},{"b":"Vb1","k":293,"QL":-0.19},{"b":"Vb1","k":303,"QL":-0.36},{"b":"Vb1","k":313,"QL":-0.52},{"b":"Vb1","k":323,"QL":-0.63},{"b":"Vb1","k":333,"QL":-0.71},{"b":"Vb1","k":343,"QL":-0.78},{"b":"Vb1","k":353,"QL":-0.83},{"b":"Vb1","k":363,"QL":-0.87},{"b":"Vb1","k":373,"QL":-0.88},{"b":"Vb1","k":383,"QL":-0.87},{"b":"Vb1","k":393,"QL":-0.81},{"b":"Vb1","k":403,"QL":-0.72},{"b":"Vb1","k":413,"QL":-0.63},{"b":"Vb1","k":423,"QL":-0.56},{"b":"Vb1","k":434,"QL":-0.5,"BL":-0.5},{"b":"Vb1","k":443,"QL":-0.47},{"b":"Vb1","k":450,"QL":-0.46,"BL":-0.46},{"b":"Vb1","k":460,"QL":-0.45,"BL":-0.45},{"b":"Vb1","k":470,"QL":-0.44,"BL":-0.44},
{"b":"Vb2","k":0,"QL":-1.34},{"b":"Vb2","k":14,"QL":-1.34},{"b":"Vb2","k":27,"QL":-1.36},{"b":"Vb2","k":40,"QL":-1.4},{"b":"Vb2","k":54,"QL":-1.46,"BL":-1.46},{"b":"Vb2","k":67,"QL":-1.55},{"b":"Vb2","k":80,"QL":-1.63},{"b":"Vb2","k":94,"QL":-1.67},{"b":"Vb2","k":107,"QL":-1.66},{"b":"Vb2","k":120,"QL":-1.57,"BL":-1.57},{"b":"Vb2","k":134,"QL":-1.48},{"b":"Vb2","k":147,"QL":-1.42,"BL":-1.42},{"b":"Vb2","k":160,"QL":-1.37,"BL":-1.37},{"b":"Vb2","k":173,"QL":-1.33},{"b":"Vb2","k":180,"QL":-1.25},{"b":"Vb2","k":187,"QL":-1.12},{"b":"Vb2","k":194,"QL":-1.03},{"b":"Vb2","k":204,"QL":-0.93},{"b":"Vb2","k":214,"QL":-0.85},{"b":"Vb2","k":224,"QL":-0.77},{"b":"Vb2","k":234,"QL":-0.7},{"b":"Vb2","k":244,"QL":-0.62},{"b":"Vb2","k":254,"QL":-0.55},{"b":"Vb2","k":264,"QL":-0.5},{"b":"Vb2","k":273,"QL":-0.48},{"b":"Vb2","k":283,"QL":-0.51},{"b":"Vb2","k":293,"QL":-0.6},{"b":"Vb2","k":303,"QL":-0.72},{"b":"Vb2","k":313,"QL":-0.86},{"b":"Vb2","k":323,"QL":-0.97},{"b":"Vb2","k":333,"QL":-1.04},{"b":"Vb2","k":343,"QL":-1.09},{"b":"Vb2","k":353,"QL":-1.11},{"b":"Vb2","k":363,"QL":-1.12},{"b":"Vb2","k":373,"QL":-1.12},{"b":"Vb2","k":383,"QL":-1.1},{"b":"Vb2","k":393,"QL":-1.03},{"b":"Vb2","k":403,"QL":-0.92},{"b":"Vb2","k":413,"QL":-0.8},
{"b":"Vb3","k":0,"QL":-1.72},{"b":"Vb3","k":14,"QL":-1.74},{"b":"Vb3","k":27,"QL":-1.79},{"b":"Vb3","k":40,"QL":-1.88},{"b":"Vb3","k":54,"QL":-2.0,"BL":-2.0},{"b":"Vb3","k":67,"QL":-2.1},{"b":"Vb3","k":80,"QL":-2.14,"BL":-2.14},{"b":"Vb3","k":94,"QL":-2.1},{"b":"Vb3","k":107,"QL":-2.06},{"b":"Vb3","k":120,"QL":-2.03},{"b":"Vb3","k":134,"QL":-2.01},{"b":"Vb3","k":147,"QL":-1.99},{"b":"Vb3","k":160,"QL":-1.98},{"b":"Vb3","k":173,"QL":-1.98},
{"b":"Vb4","k":0,"QL":-2.2},{"b":"Vb4","k":14,"QL":-2.28},{"b":"Vb4","k":27,"QL":-2.38},{"b":"Vb4","k":37,"QL":-2.44},{"b":"Vb4","k":47,"QL":-2.38},{"b":"Vb4","k":57,"QL":-2.3},{"b":"Vb4","k":67,"QL":-2.25,"BL":-2.25},{"b":"Vb4","k":77,"QL":-2.36},{"b":"Vb4","k":85,"QL":-2.5,"BL":-2.5},{"b":"Vb4","k":94,"QL":-2.64},{"b":"Vb4","k":104,"QL":-2.76},{"b":"Vb4","k":114,"QL":-2.86},{"b":"Vb4","k":124,"QL":-2.96},
{"b":"Vb5","k":0,"QL":-2.58},{"b":"Vb5","k":10,"QL":-2.6},{"b":"Vb5","k":20,"QL":-2.64},{"b":"Vb5","k":30,"QL":-2.72},{"b":"Vb5","k":40,"QL":-2.82},{"b":"Vb5","k":48,"QL":-2.92,"BL":-2.92},{"b":"Vb5","k":55,"QL":-3.0},
{"b":"Vb6","k":0,"QL":-2.74},{"b":"Vb6","k":10,"QL":-2.76},{"b":"Vb6","k":20,"QL":-2.82},{"b":"Vb6","k":27,"QL":-2.9},{"b":"Vb6","k":33,"QL":-2.98},
{"b":"ML1","k":140,"QL":-2.15},{"b":"ML1","k":147,"QL":-2.3},{"b":"ML1","k":153,"QL":-2.45},{"b":"ML1","k":159,"QL":-2.58},{"b":"ML1","k":165,"QL":-2.7,"BL":-2.7},{"b":"ML1","k":171,"QL":-2.82},{"b":"ML1","k":175,"QL":-2.9},
{"b":"ML2","k":147,"QL":-2.55},{"b":"ML2","k":155,"QL":-2.6},{"b":"ML2","k":163,"QL":-2.65,"BL":-2.65},{"b":"ML2","k":171,"QL":-2.75,"BL":-2.75},{"b":"ML2","k":177,"QL":-2.74,"BL":-2.74},
{"b":"MKa","k":173,"QL":-2.05},{"b":"MKa","k":185,"QL":-2.12},{"b":"MKa","k":197,"QL":-2.17},{"b":"MKa","k":209,"QL":-2.2},{"b":"MKa","k":221,"QL":-2.18},{"b":"MKa","k":233,"QL":-2.14},{"b":"MKa","k":245,"QL":-2.1},{"b":"MKa","k":257,"QL":-2.05},{"b":"MKa","k":273,"QL":-2.0},
{"b":"MKb","k":173,"QL":-2.52},{"b":"MKb","k":183,"QL":-2.51},{"b":"MKb","k":193,"QL":-2.5},{"b":"MKb","k":203,"QL":-2.5},{"b":"MKb","k":215,"QL":-2.46},{"b":"MKb","k":227,"QL":-2.4},{"b":"MKb","k":239,"QL":-2.34},{"b":"MKb","k":251,"QL":-2.27},{"b":"MKb","k":263,"QL":-2.2},{"b":"MKb","k":273,"QL":-2.14},
{"b":"MKc","k":173,"BL":-2.75},{"b":"MKc","k":183,"BL":-2.76},{"b":"MKc","k":193,"BL":-2.76},{"b":"MKc","k":203,"BL":-2.74},
{"b":"MKd","k":173,"QL":-2.9},{"b":"MKd","k":185,"QL":-2.92},{"b":"MKd","k":197,"QL":-2.9},{"b":"MKd","k":209,"QL":-2.88},{"b":"MKd","k":221,"QL":-2.85},{"b":"MKd","k":233,"QL":-2.8},{"b":"MKd","k":245,"QL":-2.76},{"b":"MKd","k":257,"QL":-2.72},{"b":"MKd","k":273,"QL":-2.68},
{"b":"KB","k":227,"QL":-2.95},{"b":"KB","k":237,"QL":-2.92},{"b":"KB","k":247,"QL":-2.88},{"b":"KB","k":257,"QL":-2.85,"BL":-2.85},{"b":"KB","k":267,"QL":-2.86},{"b":"KB","k":277,"QL":-2.9,"BL":-2.9},{"b":"KB","k":287,"QL":-2.95},
{"b":"La","k":227,"QL":-2.3},{"b":"La","k":242,"QL":-2.18},{"b":"La","k":257,"QL":-2.06},{"b":"La","k":273,"QL":-1.95},{"b":"La","k":287,"QL":-1.82},{"b":"La","k":300,"QL":-1.64},{"b":"La","k":308,"QL":-1.55},{"b":"La","k":317,"QL":-1.47},{"b":"La","k":325,"QL":-1.4},{"b":"La","k":334,"QL":-1.34},{"b":"La","k":342,"QL":-1.28},{"b":"La","k":350,"QL":-1.22},{"b":"La","k":358,"QL":-1.17},{"b":"La","k":367,"QL":-1.13},{"b":"La","k":375,"QL":-1.16},{"b":"La","k":384,"QL":-1.2},{"b":"La","k":392,"QL":-1.23},{"b":"La","k":400,"QL":-1.26},{"b":"La","k":408,"QL":-1.27},{"b":"La","k":417,"QL":-1.28},{"b":"La","k":425,"QL":-1.29},{"b":"La","k":434,"QL":-1.3},{"b":"La","k":442,"QL":-1.31},{"b":"La","k":450,"QL":-1.32},{"b":"La","k":460,"QL":-1.32},{"b":"La","k":470,"QL":-1.32},
{"b":"Lb","k":273,"QL":-2.12},{"b":"Lb","k":287,"QL":-2.02},{"b":"Lb","k":300,"QL":-1.95},{"b":"Lb","k":308,"QL":-1.9},{"b":"Lb","k":317,"QL":-1.86},{"b":"Lb","k":325,"QL":-1.81},{"b":"Lb","k":334,"QL":-1.77},{"b":"Lb","k":342,"QL":-1.72},{"b":"Lb","k":350,"QL":-1.67},{"b":"Lb","k":358,"QL":-1.62},{"b":"Lb","k":367,"QL":-1.57},{"b":"Lb","k":375,"QL":-1.59},{"b":"Lb","k":384,"QL":-1.62},{"b":"Lb","k":392,"QL":-1.67},{"b":"Lb","k":400,"QL":-1.71},{"b":"Lb","k":408,"QL":-1.73},{"b":"Lb","k":417,"QL":-1.75},{"b":"Lb","k":425,"QL":-1.76},{"b":"Lb","k":434,"QL":-1.77},{"b":"Lb","k":442,"QL":-1.76},{"b":"Lb","k":450,"QL":-1.74},{"b":"Lb","k":460,"QL":-1.72},{"b":"Lb","k":470,"QL":-1.71},
{"b":"Lc","k":300,"QL":-2.24},{"b":"Lc","k":308,"QL":-2.2},{"b":"Lc","k":317,"QL":-2.17},{"b":"Lc","k":325,"QL":-2.14},{"b":"Lc","k":334,"QL":-2.11},{"b":"Lc","k":342,"QL":-2.09},{"b":"Lc","k":350,"QL":-2.07},{"b":"Lc","k":358,"QL":-2.05},{"b":"Lc","k":367,"QL":-2.04},{"b":"Lc","k":375,"QL":-2.05},{"b":"Lc","k":384,"QL":-2.06},{"b":"Lc","k":392,"QL":-2.08},{"b":"Lc","k":400,"QL":-2.11},{"b":"Lc","k":408,"QL":-2.19},{"b":"Lc","k":417,"QL":-2.27},{"b":"Lc","k":425,"QL":-2.33},{"b":"Lc","k":434,"QL":-2.37},{"b":"Lc","k":442,"QL":-2.35},{"b":"Lc","k":450,"QL":-2.31},{"b":"Lc","k":460,"QL":-2.26},{"b":"Lc","k":470,"QL":-2.21},
{"b":"Ld","k":317,"QL":-2.45},{"b":"Ld","k":325,"QL":-2.41},{"b":"Ld","k":334,"QL":-2.37},{"b":"Ld","k":342,"QL":-2.34},{"b":"Ld","k":350,"QL":-2.31},{"b":"Ld","k":358,"QL":-2.29},{"b":"Ld","k":367,"QL":-2.27},{"b":"Ld","k":375,"QL":-2.28},{"b":"Ld","k":384,"QL":-2.3},{"b":"Ld","k":392,"QL":-2.33},{"b":"Ld","k":400,"QL":-2.37},{"b":"Ld","k":408,"QL":-2.42},{"b":"Ld","k":417,"QL":-2.47},{"b":"Ld","k":425,"QL":-2.52},{"b":"Ld","k":434,"QL":-2.57},{"b":"Ld","k":442,"QL":-2.61},{"b":"Ld","k":450,"QL":-2.64},{"b":"Ld","k":460,"QL":-2.63},{"b":"Ld","k":470,"QL":-2.61},
{"b":"Le","k":384,"QL":-2.85},{"b":"Le","k":392,"QL":-2.8},{"b":"Le","k":400,"QL":-2.77},{"b":"Le","k":408,"QL":-2.78},{"b":"Le","k":417,"QL":-2.8},{"b":"Le","k":425,"QL":-2.82},{"b":"Le","k":434,"QL":-2.84},{"b":"Le","k":442,"QL":-2.83},{"b":"Le","k":450,"QL":-2.8},{"b":"Le","k":460,"QL":-2.78},{"b":"Le","k":470,"QL":-2.77}
],
"bw": [
{"b":"a1","k":0,"E":2.0},{"b":"a1","k":8,"E":2.01},{"b":"a1","k":16,"E":2.02},{"b":"a1","k":24,"E":2.03},{"b":"a1","k":32,"E":2.03},{"b":"a1","k":40,"E":2.03},{"b":"a1","k":48,"E":2.02},{"b":"a1","k":56,"E":2.01},{"b":"a1","k":64,"E":2.0},
{"b":"a2","k":67,"E":2.95},{"b":"a2","k":80,"E":2.92},{"b":"a2","k":93,"E":2.9},{"b":"a2","k":106,"E":2.88},{"b":"a2","k":119,"E":2.88},{"b":"a2","k":132,"E":2.88},{"b":"a2","k":145,"E":2.89},{"b":"a2","k":158,"E":2.9},{"b":"a2","k":173,"E":2.92},
{"b":"a3","k":67,"E":3.22},{"b":"a3","k":80,"E":3.18},{"b":"a3","k":93,"E":3.15},{"b":"a3","k":106,"E":3.13},{"b":"a3","k":119,"E":3.12},{"b":"a3","k":132,"E":3.12},{"b":"a3","k":145,"E":3.13},{"b":"a3","k":158,"E":3.14},{"b":"a3","k":173,"E":3.15},
{"b":"a4","k":175,"E":2.28},{"b":"a4","k":188,"E":2.26},{"b":"a4","k":201,"E":2.25},{"b":"a4","k":214,"E":2.24},{"b":"a4","k":227,"E":2.24},{"b":"a4","k":240,"E":2.25},{"b":"a4","k":253,"E":2.26},{"b":"a4","k":266,"E":2.27},{"b":"a4","k":279,"E":2.28},{"b":"a4","k":292,"E":2.28},{"b":"a4","k":305,"E":2.27},{"b":"a4","k":318,"E":2.26},
{"b":"a5","k":307,"E":2.12},{"b":"a5","k":320,"E":2.12},{"b":"a5","k":333,"E":2.12},{"b":"a5","k":346,"E":2.12},{"b":"a5","k":359,"E":2.11},{"b":"a5","k":372,"E":2.1},{"b":"a5","k":385,"E":2.1},{"b":"a5","k":398,"E":2.09},{"b":"a5","k":411,"E":2.08},{"b":"a5","k":424,"E":2.06},{"b":"a5","k":437,"E":2.04},{"b":"a5","k":450,"E":2.02},{"b":"a5","k":463,"E":2.0},{"b":"a5","k":470,"E":1.98},
{"b":"a6","k":327,"E":2.92},{"b":"a6","k":340,"E":2.95},{"b":"a6","k":353,"E":2.97},{"b":"a6","k":366,"E":2.98},{"b":"a6","k":379,"E":2.98},{"b":"a6","k":392,"E":2.97},{"b":"a6","k":405,"E":2.95},{"b":"a6","k":418,"E":2.92},
{"b":"a7","k":223,"E":1.62},{"b":"a7","k":236,"E":1.6},{"b":"a7","k":249,"E":1.58},{"b":"a7","k":262,"E":1.57},{"b":"a7","k":273,"E":1.57},{"b":"a7","k":286,"E":1.58},{"b":"a7","k":299,"E":1.6},
{"b":"w1","k":47,"E":-0.62},{"b":"w1","k":62,"E":-0.58},{"b":"w1","k":77,"E":-0.55},{"b":"w1","k":92,"E":-0.52},{"b":"w1","k":107,"E":-0.49},{"b":"w1","k":122,"E":-0.47},{"b":"w1","k":137,"E":-0.45},{"b":"w1","k":152,"E":-0.44},{"b":"w1","k":167,"E":-0.43},
{"b":"w2","k":0,"E":-1.0},{"b":"w2","k":14,"E":-0.95},{"b":"w2","k":28,"E":-0.91},{"b":"w2","k":42,"E":-0.88},{"b":"w2","k":56,"E":-0.86},{"b":"w2","k":70,"E":-0.85},{"b":"w2","k":84,"E":-0.85},{"b":"w2","k":98,"E":-0.86},{"b":"w2","k":112,"E":-0.88},{"b":"w2","k":126,"E":-0.91},{"b":"w2","k":140,"E":-0.95},{"b":"w2","k":154,"E":-0.99},{"b":"w2","k":168,"E":-1.03},
{"b":"w3","k":307,"E":-0.55},{"b":"w3","k":317,"E":-0.42},{"b":"w3","k":327,"E":-0.3},{"b":"w3","k":337,"E":-0.2},{"b":"w3","k":347,"E":-0.12},{"b":"w3","k":357,"E":-0.05},{"b":"w3","k":370,"E":-0.02},{"b":"w3","k":382,"E":-0.05},{"b":"w3","k":392,"E":-0.12},{"b":"w3","k":402,"E":-0.22},{"b":"w3","k":412,"E":-0.33},{"b":"w3","k":422,"E":-0.45},{"b":"w3","k":432,"E":-0.58},{"b":"w3","k":442,"E":-0.7},{"b":"w3","k":452,"E":-0.82},{"b":"w3","k":462,"E":-0.94},{"b":"w3","k":470,"E":-1.0},
{"b":"w4","k":317,"E":-0.8},{"b":"w4","k":327,"E":-0.7},{"b":"w4","k":337,"E":-0.6},{"b":"w4","k":347,"E":-0.53},{"b":"w4","k":360,"E":-0.49},{"b":"w4","k":370,"E":-0.48},{"b":"w4","k":382,"E":-0.5},{"b":"w4","k":392,"E":-0.56},{"b":"w4","k":402,"E":-0.65},{"b":"w4","k":412,"E":-0.76},
{"b":"w5","k":183,"E":-0.88},{"b":"w5","k":197,"E":-0.88},{"b":"w5","k":211,"E":-0.88},{"b":"w5","k":225,"E":-0.88},{"b":"w5","k":239,"E":-0.88},{"b":"w5","k":253,"E":-0.88},{"b":"w5","k":267,"E":-0.87},{"b":"w5","k":281,"E":-0.88},{"b":"w5","k":295,"E":-0.88},{"b":"w5","k":309,"E":-0.88},{"b":"w5","k":323,"E":-0.89}
],
"bc": [
{"k":30,"lo":-3,"hi":-1.42,"s":"QL"},{"k":36,"lo":-3,"hi":-1.42,"s":"QL"},{"k":42,"lo":-3,"hi":-1.42,"s":"QL"},{"k":48,"lo":-3,"hi":-1.42,"s":"QL"},{"k":54,"lo":-3,"hi":-1.42,"s":"QL"},{"k":60,"lo":-3,"hi":-1.42,"s":"QL"},{"k":66,"lo":-3,"hi":-1.38,"s":"QL"},{"k":72,"lo":-3,"hi":-1.38,"s":"QL"},{"k":78,"lo":-3,"hi":-1.38,"s":"QL"},{"k":84,"lo":-3,"hi":-1.38,"s":"QL"},{"k":90,"lo":-3,"hi":-1.38,"s":"QL"},{"k":96,"lo":-3,"hi":-1.38,"s":"QL"},{"k":102,"lo":-3,"hi":-1.38,"s":"QL"},{"k":108,"lo":-3,"hi":-1.38,"s":"QL"},{"k":114,"lo":-3,"hi":-1.38,"s":"QL"},{"k":120,"lo":-3,"hi":-1.38,"s":"QL"},{"k":126,"lo":-3,"hi":-1.38,"s":"QL"},{"k":132,"lo":-3,"hi":-1.38,"s":"QL"},{"k":138,"lo":-3,"hi":-1.38,"s":"QL"},{"k":144,"lo":-3,"hi":-1.38,"s":"QL"},{"k":150,"lo":-3,"hi":-1.38,"s":"QL"},{"k":156,"lo":-3,"hi":-1.38,"s":"QL"},{"k":162,"lo":-3,"hi":-1.38,"s":"QL"},{"k":168,"lo":-3,"hi":-1.38,"s":"QL"},{"k":176,"lo":-3,"hi":-1.22,"s":"QL"},{"k":182,"lo":-3,"hi":-1.22,"s":"QL"},{"k":188,"lo":-3,"hi":-1.22,"s":"QL"},{"k":194,"lo":-3,"hi":-1.22,"s":"QL"},{"k":200,"lo":-3,"hi":-1.22,"s":"QL"},{"k":206,"lo":-3,"hi":-1.22,"s":"QL"},{"k":212,"lo":-3,"hi":-1.22,"s":"QL"},{"k":218,"lo":-3,"hi":-1.22,"s":"QL"},{"k":224,"lo":-3,"hi":-1.22,"s":"QL"},{"k":230,"lo":-3,"hi":-1.22,"s":"QL"},{"k":236,"lo":-3,"hi":-1.22,"s":"QL"},{"k":242,"lo":-3,"hi":-1.22,"s":"QL"},{"k":248,"lo":-3,"hi":-1.22,"s":"QL"},{"k":254,"lo":-3,"hi":-1.22,"s":"QL"},{"k":260,"lo":-3,"hi":-1.22,"s":"QL"},{"k":266,"lo":-3,"hi":-1.22,"s":"QL"},{"k":272,"lo":-3,"hi":-1.22,"s":"QL"},{"k":278,"lo":-3,"hi":-1.3,"s":"QL"},{"k":284,"lo":-3,"hi":-1.3,"s":"QL"},{"k":290,"lo":-3,"hi":-1.3,"s":"QL"},{"k":296,"lo":-3,"hi":-1.3,"s":"QL"},{"k":302,"lo":-3,"hi":-1.3,"s":"QL"},{"k":308,"lo":-3,"hi":-1.3,"s":"QL"},{"k":314,"lo":-3,"hi":-1.3,"s":"QL"},{"k":320,"lo":-3,"hi":-1.3,"s":"QL"},{"k":326,"lo":-3,"hi":-1.3,"s":"QL"},{"k":332,"lo":-3,"hi":-1.3,"s":"QL"},{"k":338,"lo":-3,"hi":-1.3,"s":"QL"},{"k":344,"lo":-3,"hi":-1.3,"s":"QL"},{"k":350,"lo":-3,"hi":-1.3,"s":"QL"},{"k":356,"lo":-3,"hi":-1.3,"s":"QL"},{"k":362,"lo":-3,"hi":-1.3,"s":"QL"},{"k":368,"lo":-3,"hi":-1.3,"s":"QL"},{"k":374,"lo":-3,"hi":-1.3,"s":"QL"},{"k":380,"lo":-3,"hi":-1.3,"s":"QL"},{"k":386,"lo":-3,"hi":-1.3,"s":"QL"},{"k":392,"lo":-3,"hi":-1.3,"s":"QL"},{"k":398,"lo":-3,"hi":-1.3,"s":"QL"},{"k":404,"lo":-3,"hi":-1.3,"s":"QL"},{"k":410,"lo":-3,"hi":-1.3,"s":"QL"},{"k":416,"lo":-3,"hi":-1.3,"s":"QL"},{"k":422,"lo":-3,"hi":-1.3,"s":"QL"},{"k":428,"lo":-3,"hi":-1.3,"s":"QL"},{"k":434,"lo":-3,"hi":-1.3,"s":"QL"},{"k":440,"lo":-3,"hi":-1.3,"s":"QL"},{"k":446,"lo":-3,"hi":-1.3,"s":"QL"},{"k":452,"lo":-3,"hi":-1.3,"s":"QL"},{"k":458,"lo":-3,"hi":-1.3,"s":"QL"},{"k":464,"lo":-3,"hi":-1.3,"s":"QL"},
{"k":33,"lo":-3,"hi":-1.45,"s":"BL"},{"k":45,"lo":-3,"hi":-1.45,"s":"BL"},{"k":57,"lo":-3,"hi":-1.45,"s":"BL"},{"k":69,"lo":-3,"hi":-1.45,"s":"BL"},{"k":81,"lo":-3,"hi":-1.45,"s":"BL"},{"k":93,"lo":-3,"hi":-1.45,"s":"BL"},{"k":105,"lo":-3,"hi":-1.45,"s":"BL"},{"k":117,"lo":-3,"hi":-1.45,"s":"BL"},{"k":129,"lo":-3,"hi":-1.45,"s":"BL"},{"k":141,"lo":-3,"hi":-1.45,"s":"BL"},{"k":153,"lo":-3,"hi":-1.45,"s":"BL"},{"k":165,"lo":-3,"hi":-1.45,"s":"BL"},{"k":177,"lo":-3,"hi":-1.35,"s":"BL"},{"k":189,"lo":-3,"hi":-1.35,"s":"BL"},{"k":201,"lo":-3,"hi":-1.35,"s":"BL"},{"k":213,"lo":-3,"hi":-1.35,"s":"BL"},{"k":225,"lo":-3,"hi":-1.35,"s":"BL"},{"k":237,"lo":-3,"hi":-1.35,"s":"BL"},{"k":249,"lo":-3,"hi":-1.35,"s":"BL"},{"k":261,"lo":-3,"hi":-1.35,"s":"BL"},{"k":275,"lo":-3,"hi":-1.4,"s":"BL"},{"k":287,"lo":-3,"hi":-1.4,"s":"BL"},{"k":299,"lo":-3,"hi":-1.4,"s":"BL"},{"k":311,"lo":-3,"hi":-1.4,"s":"BL"},{"k":323,"lo":-3,"hi":-1.4,"s":"BL"},{"k":335,"lo":-3,"hi":-1.4,"s":"BL"},{"k":347,"lo":-3,"hi":-1.4,"s":"BL"},{"k":359,"lo":-3,"hi":-1.4,"s":"BL"},{"k":371,"lo":-3,"hi":-1.4,"s":"BL"},{"k":383,"lo":-3,"hi":-1.4,"s":"BL"},{"k":395,"lo":-3,"hi":-1.4,"s":"BL"},{"k":407,"lo":-3,"hi":-1.4,"s":"BL"},{"k":419,"lo":-3,"hi":-1.4,"s":"BL"},{"k":431,"lo":-3,"hi":-1.4,"s":"BL"},{"k":443,"lo":-3,"hi":-1.4,"s":"BL"},{"k":455,"lo":-3,"hi":-1.4,"s":"BL"},{"k":467,"lo":-3,"hi":-1.4,"s":"BL"},
{"k":36,"lo":2.0,"hi":3.5,"s":"QLc"},{"k":44,"lo":2.0,"hi":3.5,"s":"QLc"},{"k":52,"lo":2.0,"hi":3.5,"s":"QLc"},{"k":60,"lo":2.0,"hi":3.5,"s":"QLc"},{"k":68,"lo":2.0,"hi":3.5,"s":"QLc"},{"k":76,"lo":2.0,"hi":3.5,"s":"QLc"},{"k":84,"lo":2.0,"hi":3.5,"s":"QLc"},{"k":92,"lo":2.0,"hi":3.5,"s":"QLc"},{"k":100,"lo":2.0,"hi":3.5,"s":"QLc"},{"k":108,"lo":2.0,"hi":3.5,"s":"QLc"},{"k":116,"lo":2.0,"hi":3.5,"s":"QLc"},{"k":124,"lo":2.0,"hi":3.5,"s":"QLc"},{"k":132,"lo":2.0,"hi":3.5,"s":"QLc"},{"k":140,"lo":2.0,"hi":3.5,"s":"QLc"},{"k":148,"lo":2.0,"hi":3.5,"s":"QLc"},{"k":156,"lo":2.0,"hi":3.5,"s":"QLc"},{"k":164,"lo":2.0,"hi":3.5,"s":"QLc"},{"k":180,"lo":1.95,"hi":3.5,"s":"QLc"},{"k":188,"lo":1.95,"hi":3.5,"s":"QLc"},{"k":196,"lo":1.95,"hi":3.5,"s":"QLc"},{"k":204,"lo":1.95,"hi":3.5,"s":"QLc"},{"k":212,"lo":1.95,"hi":3.5,"s":"QLc"},{"k":220,"lo":1.95,"hi":3.5,"s":"QLc"},{"k":228,"lo":1.95,"hi":3.5,"s":"QLc"},{"k":236,"lo":1.95,"hi":3.5,"s":"QLc"},{"k":244,"lo":1.95,"hi":3.5,"s":"QLc"},{"k":252,"lo":1.95,"hi":3.5,"s":"QLc"},{"k":260,"lo":1.95,"hi":3.5,"s":"QLc"},{"k":268,"lo":1.95,"hi":3.5,"s":"QLc"},{"k":280,"lo":1.95,"hi":3.5,"s":"QLc"},{"k":288,"lo":1.95,"hi":3.5,"s":"QLc"},{"k":296,"lo":1.95,"hi":3.5,"s":"QLc"},{"k":304,"lo":1.95,"hi":3.5,"s":"QLc"},{"k":312,"lo":1.95,"hi":3.5,"s":"QLc"},{"k":320,"lo":1.95,"hi":3.5,"s":"QLc"},{"k":328,"lo":1.95,"hi":3.5,"s":"QLc"},{"k":336,"lo":1.95,"hi":3.5,"s":"QLc"},{"k":344,"lo":1.95,"hi":3.5,"s":"QLc"},{"k":352,"lo":1.95,"hi":3.5,"s":"QLc"},{"k":360,"lo":1.95,"hi":3.5,"s":"QLc"},{"k":368,"lo":1.95,"hi":3.5,"s":"QLc"},{"k":376,"lo":1.95,"hi":3.5,"s":"QLc"},{"k":384,"lo":1.95,"hi":3.5,"s":"QLc"},{"k":392,"lo":1.95,"hi":3.5,"s":"QLc"},{"k":400,"lo":1.95,"hi":3.5,"s":"QLc"},{"k":408,"lo":1.95,"hi":3.5,"s":"QLc"},{"k":416,"lo":1.95,"hi":3.5,"s":"QLc"},{"k":424,"lo":1.95,"hi":3.5,"s":"QLc"},{"k":432,"lo":1.95,"hi":3.5,"s":"QLc"},{"k":440,"lo":1.95,"hi":3.5,"s":"QLc"},{"k":448,"lo":1.95,"hi":3.5,"s":"QLc"},{"k":456,"lo":1.95,"hi":3.5,"s":"QLc"},{"k":464,"lo":1.95,"hi":3.5,"s":"QLc"}
]
},
"vconcat": [
{
  "title": {"text": "a)", "dx": -2},
  "width": 472, "height": 330,
  "layer": [
    {"data": {"name": "ac"}, "mark": {"type": "rule", "color": "#9a62b0", "strokeWidth": 1, "strokeDash": [1, 3], "opacity": 0.22, "clip": true},
     "encoding": {"x": {"field": "k", "type": "quantitative", "scale": {"domain": [0, 470], "nice": false, "zero": false}, "axis": {"values": [0, 173, 273, 470], "labelExpr": "datum.value == 173 ? 'M' : datum.value == 273 ? 'K' : 'Γ'", "ticks": false, "labelPadding": 2, "labelFontSize": 23, "labelAlign": {"condition": {"test": "datum.value == 470", "value": "right"}, "value": "center"}, "labelFlush": false, "labelOverlap": false, "labelBound": false, "title": null}},
       "y": {"field": "hi", "type": "quantitative", "scale": {"domain": [-1.25, 2.5], "nice": false, "zero": false}, "axis": {"orient": "left", "values": [-0.5, 0.5, 1.5], "labels": false, "tickSize": -7, "title": null}}, "y2": {"field": "lo"}}},
    {"data": {"name": "aw"}, "mark": {"type": "circle", "size": 5, "color": "#a050a8", "opacity": 0.8, "clip": true},
     "encoding": {"x": {"field": "k", "type": "quantitative", "axis": {"values": [0, 173, 273, 470], "labelExpr": "datum.value == 173 ? 'M' : datum.value == 273 ? 'K' : 'Γ'", "ticks": false, "labelPadding": 2, "labelFontSize": 23, "labelAlign": {"condition": {"test": "datum.value == 470", "value": "right"}, "value": "center"}, "labelFlush": false, "labelOverlap": false, "labelBound": false, "title": null}},
       "y": {"field": "E", "type": "quantitative", "axis": {"orient": "right", "values": [-0.5, 0.5, 1.5], "labels": false, "tickSize": -7, "title": null}}}},
    {"mark": {"type": "rule", "color": "#777777", "strokeWidth": 1.5},
     "encoding": {"y": {"datum": 0, "type": "quantitative", "axis": {"orient": "right", "values": [-1, 0, 1, 2], "labels": false, "title": null, "tickSize": -13}}}},
    {"data": {"values": [{"k": 173}, {"k": 273}]}, "mark": {"type": "rule", "color": "black", "strokeWidth": 1.5, "strokeDash": [7, 5]},
     "encoding": {"x": {"field": "k", "type": "quantitative", "axis": {"values": [0, 173, 273, 470], "labelExpr": "datum.value == 173 ? 'M' : datum.value == 273 ? 'K' : 'Γ'", "ticks": false, "labelPadding": 2, "labelFontSize": 23, "labelAlign": {"condition": {"test": "datum.value == 470", "value": "right"}, "value": "center"}, "labelFlush": false, "labelOverlap": false, "labelBound": false, "title": null}}}},
    {"data": {"name": "af"}, "transform": [{"fold": ["FS", "ML", "BL"], "as": ["s", "E"]}],
     "mark": {"type": "circle", "size": 36, "opacity": 1, "clip": true},
     "encoding": {
       "x": {"field": "k", "type": "quantitative", "axis": {"values": [0, 173, 273, 470], "labelExpr": "datum.value == 173 ? 'M' : datum.value == 273 ? 'K' : 'Γ'", "ticks": false, "labelPadding": 2, "labelFontSize": 23, "labelAlign": {"condition": {"test": "datum.value == 470", "value": "right"}, "value": "center"}, "labelFlush": false, "labelOverlap": false, "labelBound": false, "title": null}},
       "y": {"field": "E", "type": "quantitative", "axis": {"orient": "left", "values": [-1, 0, 1, 2], "labelExpr": "'' + datum.value", "tickSize": -13, "labelPadding": 21, "title": "E-Eᴠʙᴍ (eV)", "titlePadding": 6}},
       "color": {"field": "s", "type": "nominal", "scale": {"domain": ["FS", "ML", "BL"], "range": ["#0e8a0e", "#ff0000", "#0000ff"]},
         "legend": {"orient": "none", "legendX": 24, "legendY": 118, "title": null, "labelExpr": "datum.value == 'FS' ? 'Freestanding' : datum.value == 'ML' ? 'hBN ML-encapsulation' : 'hBN BL-encapsulation'", "symbolType": "circle", "symbolSize": 110, "symbolStrokeWidth": 0, "symbolOpacity": 1, "labelFont": "Liberation Serif, Times New Roman, DejaVu Serif, serif", "labelFontSize": 19, "labelColor": "black", "strokeColor": "#333333", "fillColor": "white", "padding": 7, "rowPadding": 3, "labelOffset": 10, "labelLimit": 300}}
     }}
  ],
  "resolve": {"axis": {"y": "independent"}}
},
{
  "title": {"text": "b)", "dx": -2},
  "width": 472, "height": 328,
  "layer": [
    {"data": {"name": "bc"}, "mark": {"type": "rule", "strokeWidth": 1, "strokeDash": [1.5, 2], "opacity": 0.6, "clip": true},
     "encoding": {"x": {"field": "k", "type": "quantitative", "scale": {"domain": [0, 470], "nice": false, "zero": false}, "axis": {"values": [0, 173, 273, 470], "labelExpr": "datum.value == 173 ? 'M' : datum.value == 273 ? 'K' : 'Γ'", "ticks": false, "labelPadding": 2, "labelFontSize": 23, "labelAlign": {"condition": {"test": "datum.value == 470", "value": "right"}, "value": "center"}, "labelFlush": false, "labelOverlap": false, "labelBound": false, "title": null}},
       "y": {"field": "hi", "type": "quantitative", "scale": {"domain": [-3, 3.5], "nice": false, "zero": false}, "axis": {"orient": "left", "values": [-2.5, -1.5, -0.5, 0.5, 1.5, 2.5], "labels": false, "tickSize": -7, "title": null}}, "y2": {"field": "lo"},
       "stroke": {"field": "s", "type": "nominal", "scale": {"domain": ["QL", "BL", "QLc"], "range": ["#ff3030", "#3030ff", "#ffc4c4"]}, "legend": null}}},
    {"data": {"name": "bw"}, "mark": {"type": "circle", "size": 5, "color": "#ff2020", "opacity": 0.8, "clip": true},
     "encoding": {"x": {"field": "k", "type": "quantitative", "axis": {"values": [0, 173, 273, 470], "labelExpr": "datum.value == 173 ? 'M' : datum.value == 273 ? 'K' : 'Γ'", "ticks": false, "labelPadding": 2, "labelFontSize": 23, "labelAlign": {"condition": {"test": "datum.value == 470", "value": "right"}, "value": "center"}, "labelFlush": false, "labelOverlap": false, "labelBound": false, "title": null}},
       "y": {"field": "E", "type": "quantitative", "axis": {"orient": "right", "values": [-2.5, -1.5, -0.5, 0.5, 1.5, 2.5], "labels": false, "tickSize": -7, "title": null}}}},
    {"mark": {"type": "rule", "color": "#777777", "strokeWidth": 1.5},
     "encoding": {"y": {"datum": 0, "type": "quantitative", "axis": {"orient": "right", "values": [-2, -1, 0, 1, 2, 3], "labels": false, "title": null, "tickSize": -13}}}},
    {"data": {"values": [{"k": 173}, {"k": 273}]}, "mark": {"type": "rule", "color": "black", "strokeWidth": 1.5, "strokeDash": [7, 5]},
     "encoding": {"x": {"field": "k", "type": "quantitative", "axis": {"values": [0, 173, 273, 470], "labelExpr": "datum.value == 173 ? 'M' : datum.value == 273 ? 'K' : 'Γ'", "ticks": false, "labelPadding": 2, "labelFontSize": 23, "labelAlign": {"condition": {"test": "datum.value == 470", "value": "right"}, "value": "center"}, "labelFlush": false, "labelOverlap": false, "labelBound": false, "title": null}}}},
    {"data": {"name": "bf"}, "transform": [{"fold": ["BL", "QL"], "as": ["s", "E"]}],
     "mark": {"type": "circle", "opacity": 1, "clip": true},
     "encoding": {
       "x": {"field": "k", "type": "quantitative", "axis": {"values": [0, 173, 273, 470], "labelExpr": "datum.value == 173 ? 'M' : datum.value == 273 ? 'K' : 'Γ'", "ticks": false, "labelPadding": 2, "labelFontSize": 23, "labelAlign": {"condition": {"test": "datum.value == 470", "value": "right"}, "value": "center"}, "labelFlush": false, "labelOverlap": false, "labelBound": false, "title": null}},
       "y": {"field": "E", "type": "quantitative", "axis": {"orient": "left", "values": [-3, -2, -1, 0, 1, 2, 3], "labelExpr": "'' + datum.value", "tickSize": -13, "labelPadding": 21, "title": "E-Eᴠʙᴍ (eV)", "titlePadding": 6}},
       "color": {"field": "s", "type": "nominal", "scale": {"domain": ["BL", "QL"], "range": ["#0000ff", "#ff0000"]},
         "legend": {"orient": "none", "legendX": 24, "legendY": 107, "title": null, "labelExpr": "datum.value == 'BL' ? 'hBN BL-encapsulation' : 'hBN QL-encapsulation'", "symbolType": "circle", "symbolSize": 110, "symbolStrokeWidth": 0, "symbolOpacity": 1, "labelFont": "Liberation Serif, Times New Roman, DejaVu Serif, serif", "labelFontSize": 19, "labelColor": "black", "strokeColor": "#333333", "fillColor": "white", "padding": 7, "rowPadding": 3, "labelOffset": 10, "labelLimit": 300}},
       "size": {"field": "s", "type": "ordinal", "scale": {"domain": ["BL", "QL"], "range": [60, 26]}, "legend": null}
     }}
  ],
  "resolve": {"axis": {"y": "independent"}}
}
]
}
